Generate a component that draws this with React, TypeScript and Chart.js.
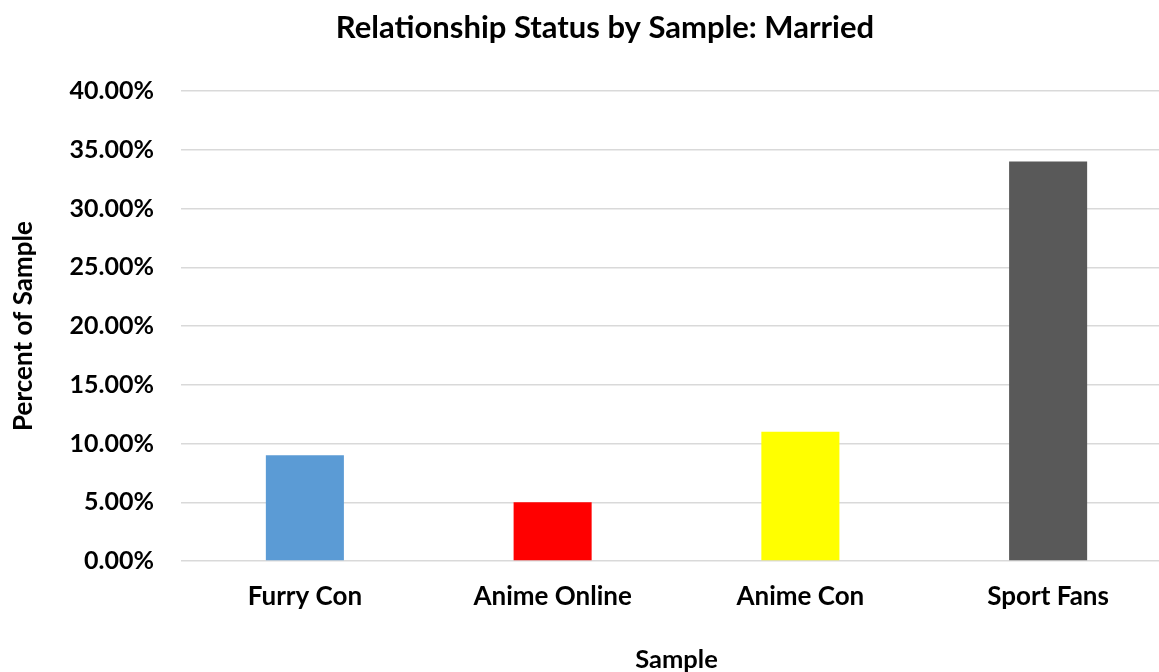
import React, { useEffect, useRef } from "react";
import { Chart, registerables } from "chart.js";

Chart.register(...registerables);

const categories = ["Furry Con", "Anime Online", "Anime Con", "Sport Fans"];
const marriedPercent = [9, 5, 11, 34];
const barColors = ["#5B9BD5", "#FF0000", "#FFFF00", "#595959"];
const yTickValues = [0, 5, 10, 15, 20, 25, 30, 35, 40];
const chartTitle = "Relationship Status by Sample: Married";
const xAxisTitle = "Sample";
const yAxisTitle = "Percent of Sample";

const FONT = "Lato, 'Open Sans', sans-serif";

export default function App() {
  const canvasRef = useRef<HTMLCanvasElement | null>(null);

  useEffect(() => {
    const canvas = canvasRef.current;
    if (!canvas) return;
    const chart = new Chart(canvas, {
      type: "bar",
      data: {
        labels: categories,
        datasets: [
          {
            label: "Married",
            data: marriedPercent,
            backgroundColor: barColors,
            borderWidth: 0,
            barPercentage: 0.315,
            categoryPercentage: 1,
          },
        ],
      },
      options: {
        responsive: false,
        animation: false,
        devicePixelRatio: 1,
        layout: { padding: { left: 38, right: 0, top: 0, bottom: 0 } },
        plugins: {
          legend: { display: false },
          tooltip: { enabled: false },
          title: {
            display: true,
            text: chartTitle,
            color: "#000000",
            font: { family: FONT, size: 31, weight: "bold", lineHeight: 1.2 },
            padding: { top: 9.4, bottom: 44.4 },
          },
        },
        scales: {
          x: {
            grid: { display: false, drawTicks: false },
            border: { display: false },
            ticks: {
              color: "#000000",
              padding: 20.4,
              font: { family: FONT, size: 26, weight: "bold", lineHeight: 1.2 },
            },
            title: {
              display: true,
              text: xAxisTitle,
              color: "#000000",
              font: { family: FONT, size: 25.5, weight: "bold", lineHeight: 1.2 },
              padding: { top: 0, bottom: -3.3 },
            },
            afterFit: (scale: any) => {
              scale.height = 111;
            },
          },
          y: {
            min: 0,
            max: 40,
            afterBuildTicks: (scale: any) => {
              scale.ticks = yTickValues.map((v) => ({ value: v }));
            },
            grid: { color: "#D9D9D9", lineWidth: 1.5, drawTicks: false },
            border: { display: false },
            ticks: {
              color: "#000000",
              padding: 27,
              font: { family: FONT, size: 25, weight: "bold", lineHeight: 1.2 },
              callback: (v: any) => Number(v).toFixed(2) + "%",
            },
            title: {
              display: true,
              text: yAxisTitle,
              color: "#000000",
              font: { family: FONT, size: 26, weight: "bold", lineHeight: 1.2 },
              padding: { top: -29.6, bottom: 0 },
            },
            afterFit: (scale: any) => {
              scale.width = 143;
            },
          },
        },
      },
    });
    return () => chart.destroy();
  }, []);

  return (
    <div
      style={{
        position: "fixed",
        left: 0,
        top: 0,
        width: 1159,
        height: 672,
        overflow: "hidden",
        background: "#ffffff",
      }}
    >
      <canvas ref={canvasRef} width={1172} height={672} style={{ display: "block" }} />
    </div>
  );
}
